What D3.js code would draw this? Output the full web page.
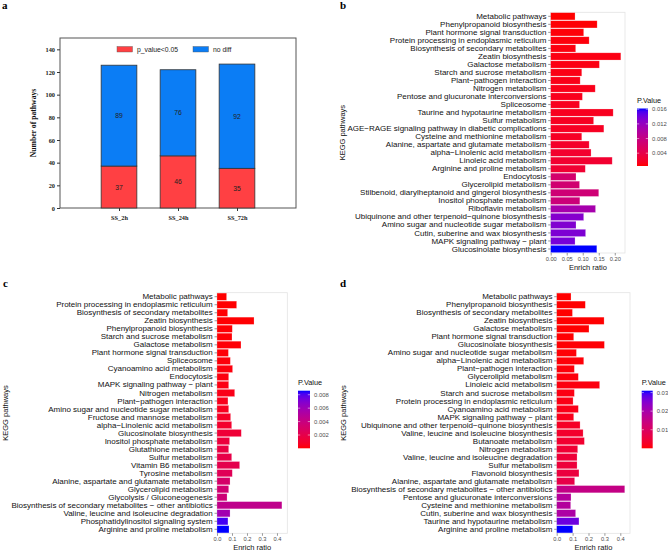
<!DOCTYPE html>
<html><head><meta charset="utf-8">
<script src="https://cdn.jsdelivr.net/npm/d3@7"></script>
<style>body{margin:0;background:#fff}svg{display:block}</style>
</head><body>
<svg id="chart" width="668" height="551"></svg>
<script>
// ---------- Panel a data ----------
const aGroups = ["SS_2h", "SS_24h", "SS_72h"];
const aSig = [37, 46, 35];
const aNoDiff = [89, 76, 92];
const aTicks = [0, 20, 40, 60, 80, 100, 120, 140];

// ---------- Panel b data ----------
const bPathways = ["Metabolic pathways","Phenylpropanoid biosynthesis","Plant hormone signal transduction","Protein processing in endoplasmic reticulum","Biosynthesis of secondary metabolites","Zeatin biosynthesis","Galactose metabolism","Starch and sucrose metabolism","Plant\u2212pathogen interaction","Nitrogen metabolism","Pentose and glucuronate interconversions","Spliceosome","Taurine and hypotaurine metabolism","Sulfur metabolism","AGE\u2212RAGE signaling pathway in diabetic complications","Cysteine and methionine metabolism","Alanine, aspartate and glutamate metabolism","alpha\u2212Linolenic acid metabolism","Linoleic acid metabolism","Arginine and proline metabolism","Endocytosis","Glycerolipid metabolism","Stilbenoid, diarylheptanoid and gingerol biosynthesis","Inositol phosphate metabolism","Riboflavin metabolism","Ubiquinone and other terpenoid\u2212quinone biosynthesis","Amino sugar and nucleotide sugar metabolism","Cutin, suberine and wax biosynthesis","MAPK signaling pathway \u2212 plant","Glucosinolate biosynthesis"];
const bRatio = [0.076,0.145,0.103,0.120,0.078,0.219,0.152,0.097,0.092,0.139,0.099,0.090,0.195,0.134,0.166,0.097,0.120,0.126,0.192,0.108,0.079,0.090,0.150,0.091,0.140,0.103,0.079,0.109,0.076,0.144];
const bPValue = [0.0005,0.0006,0.0007,0.0008,0.0009,0.0010,0.0010,0.0011,0.0012,0.0013,0.0014,0.0015,0.0015,0.0016,0.0017,0.0018,0.0021,0.0023,0.0024,0.0026,0.0064,0.0067,0.0070,0.0073,0.0108,0.0130,0.0132,0.0134,0.0137,0.0162];
const bXTicks = [0, 0.05, 0.10, 0.15, 0.20];
const bLegendTicks = [0.004, 0.008, 0.012, 0.016];

// ---------- Panel c data ----------
const cPathways = ["Metabolic pathways","Protein processing in endoplasmic reticulum","Biosynthesis of secondary metabolites","Zeatin biosynthesis","Phenylpropanoid biosynthesis","Starch and sucrose metabolism","Galactose metabolism","Plant hormone signal transduction","Spliceosome","Cyanoamino acid metabolism","Endocytosis","MAPK signaling pathway \u2212 plant","Nitrogen metabolism","Plant\u2212pathogen interaction","Amino sugar and nucleotide sugar metabolism","Fructose and mannose metabolism","alpha\u2212Linolenic acid metabolism","Glucosinolate biosynthesis","Inositol phosphate metabolism","Glutathione metabolism","Sulfur metabolism","Vitamin B6 metabolism","Tyrosine metabolism","Alanine, aspartate and glutamate metabolism","Glycerolipid metabolism","Glycolysis / Gluconeogenesis","Biosynthesis of secondary metabolites \u2212 other antibiotics","Valine, leucine and isoleucine degradation","Phosphatidylinositol signaling system","Arginine and proline metabolism"];
const cRatio = [0.064,0.131,0.071,0.247,0.102,0.100,0.160,0.076,0.089,0.104,0.078,0.078,0.118,0.073,0.078,0.091,0.098,0.162,0.084,0.078,0.098,0.151,0.102,0.087,0.078,0.067,0.433,0.087,0.073,0.080];
const cPValue = [0.00002,0.00003,0.00004,0.00005,0.00007,0.00009,0.0001,0.00012,0.00015,0.0002,0.00025,0.0003,0.0004,0.0005,0.0006,0.0008,0.0010,0.0013,0.0015,0.0017,0.0019,0.0021,0.0024,0.0031,0.0034,0.0036,0.0044,0.0058,0.0082,0.0086];
const cXTicks = [0, 0.1, 0.2, 0.3, 0.4];
const cLegendTicks = [0.002, 0.004, 0.006, 0.008];

// ---------- Panel d data ----------
const dPathways = ["Metabolic pathways","Phenylpropanoid biosynthesis","Biosynthesis of secondary metabolites","Zeatin biosynthesis","Galactose metabolism","Plant hormone signal transduction","Glucosinolate biosynthesis","Amino sugar and nucleotide sugar metabolism","alpha\u2212Linolenic acid metabolism","Plant\u2212pathogen interaction","Glycerolipid metabolism","Linoleic acid metabolism","Starch and sucrose metabolism","Protein processing in endoplasmic reticulum","Cyanoamino acid metabolism","MAPK signaling pathway \u2212 plant","Ubiquinone and other terpenoid\u2212quinone biosynthesis","Valine, leucine and isoleucine biosynthesis","Butanoate metabolism","Nitrogen metabolism","Valine, leucine and isoleucine degradation","Sulfur metabolism","Flavonoid biosynthesis","Alanine, aspartate and glutamate metabolism","Biosynthesis of secondary metabolites \u2212 other antibiotics","Pentose and glucuronate interconversions","Cysteine and methionine metabolism","Cutin, suberine and wax biosynthesis","Taurine and hypotaurine metabolism","Arginine and proline metabolism"];
const dRatio = [0.090,0.180,0.099,0.298,0.203,0.107,0.300,0.124,0.170,0.111,0.136,0.270,0.111,0.103,0.136,0.107,0.147,0.166,0.174,0.132,0.128,0.128,0.140,0.113,0.428,0.090,0.088,0.119,0.140,0.101];
const dPValue = [0.00001,0.00002,0.00003,0.00005,0.00008,0.0001,0.0002,0.0003,0.0004,0.0005,0.0006,0.0008,0.0010,0.0012,0.0014,0.0017,0.0028,0.0033,0.0038,0.0043,0.0047,0.0050,0.0055,0.0068,0.0150,0.0180,0.0182,0.0192,0.0270,0.0310];
const dXTicks = [0, 0.1, 0.2, 0.3, 0.4];
const dLegendTicks = [0.01, 0.02, 0.03];

const svg = d3.select("#chart");
const SANS = "'Liberation Sans', Arial, sans-serif";
const SERIF = "'Liberation Serif', 'Times New Roman', serif";

function letter(t, x, y) {
  svg.append("text").attr("x", x).attr("y", y).text(t)
    .attr("font-family", SERIF).attr("font-weight", "bold").attr("font-size", 11).attr("fill", "#000");
}

// ================= Panel a =================
(function () {
  const L = 60, R = 296, T = 38, B = 208;
  const x = d3.scalePoint().domain(aGroups).range([L, R]).padding(1);
  const y = d3.scaleLinear().domain([0, 150]).range([B, T]);
  const bw = 35.7;
  const g = svg.append("g");
  g.append("rect").attr("x", L).attr("y", T).attr("width", R - L).attr("height", B - T)
    .attr("fill", "#fff").attr("stroke", "#555").attr("stroke-width", 1);

  const yAxis = g.append("g").attr("transform", `translate(${L},0)`)
    .call(d3.axisLeft(y).tickValues(aTicks).tickSize(3).tickPadding(2));
  yAxis.select(".domain").remove();
  yAxis.selectAll("line").attr("stroke", "#333");
  yAxis.selectAll("text").attr("font-family", SERIF).attr("font-weight", "bold").attr("font-size", 6.3).attr("fill", "#222");

  const xAxis = g.append("g").attr("transform", `translate(0,${B})`)
    .call(d3.axisBottom(x).tickSize(3).tickPadding(5));
  xAxis.select(".domain").remove();
  xAxis.selectAll("line").attr("stroke", "#333");
  xAxis.selectAll("text").attr("font-family", SERIF).attr("font-weight", "bold").attr("font-size", 6.3).attr("fill", "#222");

  aGroups.forEach((grp, i) => {
    const cx = x(grp);
    const s = aSig[i], n = aNoDiff[i];
    g.append("rect").attr("x", cx - bw / 2).attr("y", y(s)).attr("width", bw).attr("height", y(0) - y(s))
      .attr("fill", "#ff4043").attr("stroke", "#333").attr("stroke-width", 0.8);
    g.append("rect").attr("x", cx - bw / 2).attr("y", y(s + n)).attr("width", bw).attr("height", y(s) - y(s + n))
      .attr("fill", "#0b7df5").attr("stroke", "#333").attr("stroke-width", 0.8);
    g.append("text").attr("x", cx).attr("y", y(s / 2)).text(s)
      .attr("text-anchor", "middle").attr("dominant-baseline", "central")
      .attr("font-family", SANS).attr("font-size", 6.8).attr("fill", "#222");
    g.append("text").attr("x", cx).attr("y", y(s + n / 2)).text(n)
      .attr("text-anchor", "middle").attr("dominant-baseline", "central")
      .attr("font-family", SANS).attr("font-size", 6.8).attr("fill", "#222");
  });

  // legend
  const leg = [["p_value<0.05", "#ff4043", 117], ["no diff", "#0b7df5", 193]];
  leg.forEach(([t, c, lx]) => {
    g.append("rect").attr("x", lx).attr("y", 46.5).attr("width", 15.5).attr("height", 5.5)
      .attr("fill", c).attr("stroke", "#555").attr("stroke-width", 0.4);
    g.append("text").attr("x", lx + 20).attr("y", 49.5).text(t).attr("dominant-baseline", "central")
      .attr("font-family", SANS).attr("font-size", 6.8).attr("fill", "#222");
  });

  g.append("text").attr("transform", `translate(33,${(T + B) / 2}) rotate(-90)`).text("Number of pathways")
    .attr("text-anchor", "middle").attr("dominant-baseline", "central")
    .attr("font-family", SERIF).attr("font-weight", "bold").attr("font-size", 7.7).attr("fill", "#111");
  letter("a", 2, 9);
})();

// ================= Horizontal bar panels =================
function hbar(cfg) {
  const g = svg.append("g");
  const y = d3.scaleBand().domain(cfg.cats).range([cfg.top, cfg.bottom]).paddingInner(0.1).paddingOuter(0.05);
  const x = d3.scaleLinear().domain([0, cfg.xmax]).range([cfg.left, cfg.right]);
  const pExt = d3.extent(cfg.pval);
  const color = d3.scaleLinear().domain(pExt).range(["red", "blue"]).interpolate(d3.interpolateLab);

  g.append("rect").attr("x", cfg.left).attr("y", cfg.top).attr("width", cfg.right - cfg.left)
    .attr("height", cfg.bottom - cfg.top).attr("fill", "#fff").attr("stroke", "#e3e3e3").attr("stroke-width", 0.8);

  g.selectAll(".bar").data(cfg.cats).join("rect")
    .attr("x", x(0)).attr("y", d => y(d))
    .attr("width", (d, i) => x(cfg.ratio[i]) - x(0)).attr("height", y.bandwidth())
    .attr("fill", (d, i) => color(cfg.pval[i]))
    .attr("stroke", "#ffffff").attr("stroke-opacity", 0.35).attr("stroke-width", 0.6);

  const yAxis = g.append("g").attr("transform", `translate(${cfg.left},0)`)
    .call(d3.axisLeft(y).tickSize(2.5).tickPadding(1.8));
  yAxis.select(".domain").remove();
  yAxis.selectAll("line").attr("stroke", "#333").attr("stroke-width", 0.5);
  yAxis.selectAll("text").attr("font-family", SANS).attr("font-size", 8).attr("fill", "#111");

  const xAxis = g.append("g").attr("transform", `translate(0,${cfg.bottom})`)
    .call(d3.axisBottom(x).tickValues(cfg.xticks).tickFormat(cfg.xfmt).tickSize(2.5).tickPadding(1.5));
  xAxis.select(".domain").remove();
  xAxis.selectAll("line").attr("stroke", "#333").attr("stroke-width", 0.5);
  xAxis.selectAll("text").attr("font-family", SANS).attr("font-size", 5.7).attr("fill", "#4d4d4d");

  g.append("text").attr("x", (cfg.left + cfg.right) / 2).attr("y", cfg.bottom + 14).text("Enrich ratio")
    .attr("text-anchor", "middle").attr("dominant-baseline", "central")
    .attr("font-family", SANS).attr("font-size", 7.5).attr("fill", "#111");
  g.append("text").attr("transform", `translate(${cfg.ytx},${(cfg.top + cfg.bottom) / 2}) rotate(-90)`)
    .text("KEGG pathways").attr("text-anchor", "middle").attr("dominant-baseline", "central")
    .attr("font-family", SANS).attr("font-size", 7.5).attr("fill", "#111");

  // legend colourbar
  const lg = cfg.legend;
  const gid = "grad" + cfg.id;
  const grad = svg.append("defs").append("linearGradient").attr("id", gid)
    .attr("x1", 0).attr("y1", 1).attr("x2", 0).attr("y2", 0);
  d3.range(0, 1.0001, 0.05).forEach(t => {
    grad.append("stop").attr("offset", t).attr("stop-color", color(pExt[0] + t * (pExt[1] - pExt[0])));
  });
  const ly = d3.scaleLinear().domain(pExt).range([lg.bottom, lg.top]);
  g.append("text").attr("x", lg.x).attr("y", lg.top - 6).text("P.Value")
    .attr("font-family", SANS).attr("font-size", 7.3).attr("fill", "#111");
  g.append("rect").attr("x", lg.x).attr("y", lg.top).attr("width", lg.w).attr("height", lg.bottom - lg.top)
    .attr("fill", `url(#${gid})`);
  lg.ticks.forEach(v => {
    const yy = ly(v);
    g.append("line").attr("x1", lg.x).attr("x2", lg.x + 2.2).attr("y1", yy).attr("y2", yy).attr("stroke", "#fff").attr("stroke-width", 0.5);
    g.append("line").attr("x1", lg.x + lg.w - 2.2).attr("x2", lg.x + lg.w).attr("y1", yy).attr("y2", yy).attr("stroke", "#fff").attr("stroke-width", 0.5);
    g.append("text").attr("x", lg.x + lg.w + 4).attr("y", yy).text(lg.fmt(v)).attr("dominant-baseline", "central")
      .attr("font-family", SANS).attr("font-size", 5.9).attr("fill", "#4d4d4d");
  });
  letter(cfg.letter, cfg.lx, cfg.ly);
}

hbar({ id: "b", cats: bPathways, ratio: bRatio, pval: bPValue, left: 550.7, right: 625, top: 12.3, bottom: 253,
  xmax: 0.232, xticks: bXTicks, xfmt: d3.format(".2f"), ytx: 342.5,
  legend: { x: 637, w: 11, top: 108.5, bottom: 166, ticks: bLegendTicks, fmt: d3.format(".3f") },
  letter: "b", lx: 340, ly: 8.5 });

hbar({ id: "c", cats: cPathways, ratio: cRatio, pval: cPValue, left: 217, right: 287.3, top: 292.7, bottom: 533.3,
  xmax: 0.469, xticks: cXTicks, xfmt: d3.format(".1f"), ytx: 5,
  legend: { x: 298, w: 12, top: 390.7, bottom: 448.3, ticks: cLegendTicks, fmt: d3.format(".3f") },
  letter: "c", lx: 3, ly: 287 });

hbar({ id: "d", cats: dPathways, ratio: dRatio, pval: dPValue, left: 556.7, right: 630, top: 292.7, bottom: 533.3,
  xmax: 0.461, xticks: dXTicks, xfmt: d3.format(".1f"), ytx: 343,
  legend: { x: 641.7, w: 11, top: 390.7, bottom: 448.3, ticks: dLegendTicks, fmt: d3.format(".2f") },
  letter: "d", lx: 340, ly: 287 });
</script>
</body></html>
